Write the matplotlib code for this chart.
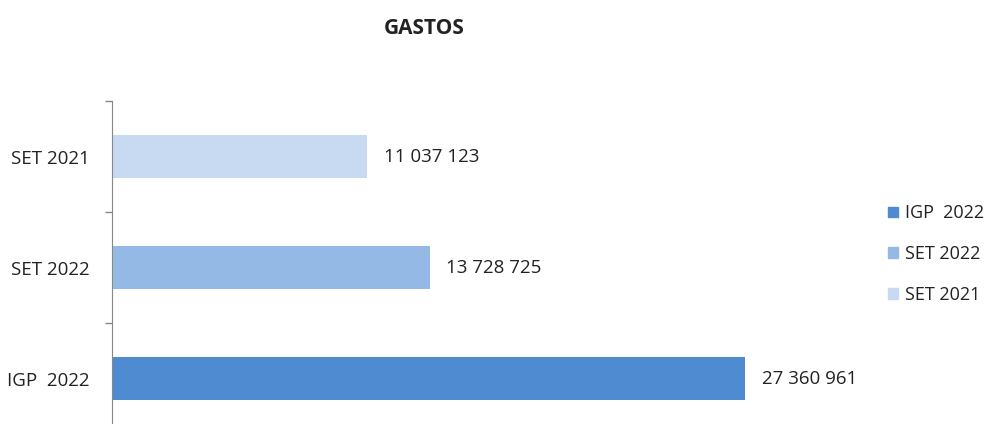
import numpy as np
import matplotlib.pyplot as plt
from matplotlib.patches import Patch

plt.rcParams['font.family'] = ['Open Sans', 'DejaVu Sans']

categorias = ['IGP  2022', 'SET 2022', 'SET 2021']
valores = [27360961, 13728725, 11037123]
cores = ['#4f8bd0', '#95b9e5', '#c7daf1']
rotulos = ['27 360 961', '13 728 725', '11 037 123']

fig = plt.figure(figsize=(9.96, 4.24), dpi=100)
# o eixo continua abaixo do limite da figura, como no original
ax = fig.add_axes([112 / 996, -10 / 424, 694 / 996, 333 / 424])

y = np.arange(len(categorias))
ax.barh(y, valores, height=0.39, color=cores)
ax.set_ylim(-0.5, 2.5)
ax.set_xlim(0, 30e6)

for yi, v, r in zip(y, valores, rotulos):
    ax.annotate(r, (v, yi), xytext=(12, 0), textcoords='offset points',
                va='center', ha='left', fontsize=13.5, color='#222222')

ax.set_yticks(y)
ax.set_yticklabels(categorias, fontsize=13.5, color='#222222')
ax.tick_params(axis='y', which='major', length=0, pad=16)
ax.set_yticks(np.arange(-0.5, 3, 1), minor=True)
ax.tick_params(axis='y', which='minor', length=5, color='#888888', width=1)
ax.set_xticks([])
for s in ['top', 'right', 'bottom']:
    ax.spines[s].set_visible(False)
ax.spines['left'].set_color('#888888')

fig.text(424 / 996, 1 - 28 / 424, 'GASTOS', ha='center', va='center',
         fontsize=15, fontweight='bold', color='#222222')

handles = [Patch(color=c, label=l) for c, l in zip(cores, categorias)]
fig.legend(handles=handles, loc='center left', bbox_to_anchor=(872 / 996, 1 - 254 / 424),
           frameon=False, fontsize=13, handlelength=0.55, handleheight=0.55,
           handletextpad=0.35, labelspacing=1.25, labelcolor='#222222')

fig.savefig('out.png', dpi=100)
